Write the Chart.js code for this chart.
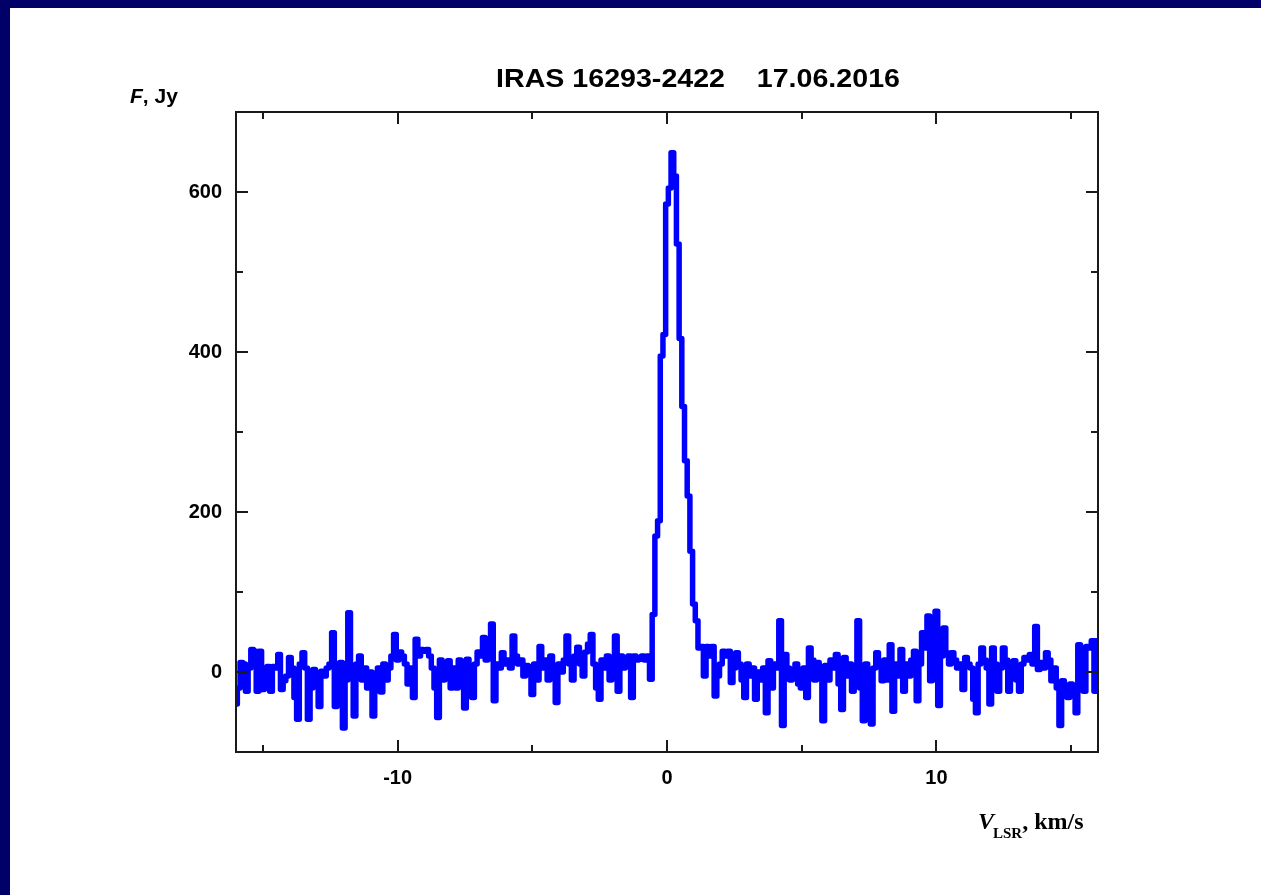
<!DOCTYPE html>
<html>
<head>
<meta charset="utf-8">
<script src="https://cdn.jsdelivr.net/npm/chart.js@4.4.1/dist/chart.umd.min.js"></script>
<style>
  html, body { margin: 0; padding: 0; background: #fff; }
  #wrap { width: 1261px; height: 895px; position: relative; }
</style>
</head>
<body>
<div id="wrap"><canvas id="spec" width="1261" height="895"></canvas></div>
<script>
// Channel grid of the spectrum (km/s)
const VEL_START = -16;
const VEL_STEP = 0.1;

// Flux density, Jy
const fluxBlueNoise = [
  -40, -20, 12, 10, -24, 5, 28, 26, -24, 26,
  -22, -5, 7, -24, 7, 5, 22, -22, -11, -5,
  18, 5, -32, -59, 10, 24, 5, -59, -20, 3,
  -10, -43, 1, -5, 5, 10, 49, -43, 0, 12,
  -70, -10, 74, 5, -55, 10, 20, -10, 5, -20,
  0, -55, -20, 5, -25, 10, -10, 5, 20, 47,
  15, 25, 20, 10, -15, 5, -32, 41, 20, 28,
  26, 28, 20, 5, -20, -57, 15, -10, 10, 14,
  -20, 5, -20, 15, 10, -45, 16, 5, -32, 10,
  25, 20, 43, 15, 20, 60, -36, 10, 5, 24,
  10, 15, 5, 45, 20, 10, 15, -5, 8, 0,
  -28, 10, -10, 32, 5, 15, -10, 20, 5, -38,
  10, 0, 15, 45, 10, -10, 20, 31, 10, -5,
  25, 35, 47, 10, -20, -34, 15, 5, 20, -10,
  15, 45, -24, 20, 5, 15, 20, -32, 20, 15,
  16, 20, 15, 20, -9,
];
const fluxLine = [72, 170, 189, 395, 422, 585, 605, 649, 620, 535, 417, 332, 264, 220, 151, 85, 64];
const fluxRedNoise = [
  30, 32, -5, 32, 20, 32, -30, -5, 10, 26,
  20, 26, -13, 5, 24, 10, -10, -32, 10, -5,
  5, -34, 0, -10, 5, -51, 14, -20, 10, 5,
  64, -67, 22, 5, -10, 3, 10, -15, -20, 5,
  -32, 30, 15, -10, 12, 5, -61, 8, -10, 15,
  5, 22, -15, -47, 18, -5, 10, -24, 0, 64,
  -20, -61, 10, -20, -65, 5, 24, 10, -11, 15,
  -10, 34, -49, 10, -5, 28, -24, 10, -5, 15,
  26, -36, 10, 49, 30, 70, -11, 20, 76, -42,
  20, 55, 24, 10, 24, 15, 5, 10, -22, 18,
  10, 5, -34, -51, 10, 30, 15, 5, -40, 30,
  10, -24, 5, 30, 15, -24, 5, 14, -10, -24,
  10, 18, 15, 22, 10, 57, 3, 12, 5, 24,
  15, -11, 5, -20, -67, -11, -20, -32, -15, -25,
  -51, 34, 5, -24, 32, 30, 39, -24, 39,
];

const xMajor = [-10, 0, 10];
const xMinor = [-15, -5, 5, 15];
const yMajor = [0, 200, 400, 600];
const yMinor = [100, 300, 500];

const flux = fluxBlueNoise.concat(fluxLine, fluxRedNoise);
const points = flux.map((f, i) => ({ x: +(VEL_START + VEL_STEP * i).toFixed(2), y: f }));

const NAVY = "#000068";
const INK = "#1a1a1a";
const SANS = "'Liberation Sans', Arial, sans-serif";
const SERIF = "'Liberation Serif', 'Times New Roman', serif";

// Slide frame, inward ticks on all four sides, and the texts placed like the original slide.
const decor = {
  id: "decor",
  beforeDraw(chart) {
    const ctx = chart.ctx;
    ctx.save();
    ctx.fillStyle = NAVY;
    ctx.fillRect(0, 0, chart.width, 8);
    ctx.fillRect(0, 0, 10, chart.height);
    ctx.restore();
  },
  afterDraw(chart) {
    const { ctx, chartArea: a, scales } = chart;
    ctx.save();
    ctx.strokeStyle = INK;
    ctx.lineWidth = 2;
    ctx.strokeRect(a.left, a.top, a.right - a.left, a.bottom - a.top);

    ctx.beginPath();
    const tickX = (vals, len) => vals.forEach((v) => {
      const px = Math.round(scales.x.getPixelForValue(v));
      ctx.moveTo(px, a.bottom); ctx.lineTo(px, a.bottom - len);
      ctx.moveTo(px, a.top); ctx.lineTo(px, a.top + len);
    });
    const tickY = (vals, len) => vals.forEach((v) => {
      const py = Math.round(scales.y.getPixelForValue(v));
      ctx.moveTo(a.left, py); ctx.lineTo(a.left + len, py);
      ctx.moveTo(a.right, py); ctx.lineTo(a.right - len, py);
    });
    tickX(xMajor, 12); tickX(xMinor, 7);
    tickY(yMajor, 12); tickY(yMinor, 7);
    ctx.stroke();

    ctx.fillStyle = "#000";
    ctx.textBaseline = "alphabetic";

    // title
    ctx.save();
    ctx.translate(698, 87);
    ctx.scale(1.1, 1);
    ctx.font = "bold 26px " + SANS;
    ctx.textAlign = "center";
    ctx.fillText("IRAS 16293-2422    17.06.2016", 0, 0);
    ctx.restore();

    // y title: F, Jy
    ctx.textAlign = "left";
    ctx.font = "italic bold 21px " + SANS;
    ctx.fillText("F", 130, 103);
    let w = ctx.measureText("F").width;
    ctx.font = "bold 21px " + SANS;
    ctx.fillText(", Jy", 130 + w, 103);

    // x title: V_LSR, km/s
    let x = 978;
    ctx.font = "italic bold 24px " + SERIF;
    ctx.fillText("V", x, 829);
    x += ctx.measureText("V").width - 1;
    ctx.font = "bold 15px " + SERIF;
    ctx.fillText("LSR", x, 838);
    x += ctx.measureText("LSR").width;
    ctx.font = "bold 24px " + SERIF;
    ctx.fillText(", km/s", x, 829);
    ctx.restore();
  },
};

new Chart(document.getElementById("spec"), {
  type: "line",
  data: {
    datasets: [{
      data: points,
      stepped: "middle",
      borderColor: "#0000ff",
      borderWidth: 5.5,
      borderJoinStyle: "round",
      borderCapStyle: "round",
      pointRadius: 0,
      fill: false,
    }],
  },
  options: {
    responsive: false,
    animation: false,
    parsing: false,
    layout: { padding: { left: 176, right: 163, top: 112, bottom: 93 } },
    plugins: { legend: { display: false }, tooltip: { enabled: false }, title: { display: false } },
    scales: {
      x: {
        type: "linear",
        min: -16,
        max: 16,
        afterBuildTicks: (s) => { s.ticks = xMajor.map((v) => ({ value: v })); },
        afterFit: (s) => { s.height = 50; },
        grid: { display: false, drawTicks: false },
        border: { display: false },
        ticks: { color: "#000", padding: 14, font: { family: SANS, size: 20, weight: "bold" }, maxRotation: 0 },
      },
      y: {
        type: "linear",
        min: -100,
        max: 700,
        afterBuildTicks: (s) => { s.ticks = yMajor.map((v) => ({ value: v })); },
        afterFit: (s) => { s.width = 60; },
        grid: { display: false, drawTicks: false },
        border: { display: false },
        ticks: { color: "#000", padding: 14, font: { family: SANS, size: 20, weight: "bold" } },
      },
    },
  },
  plugins: [decor],
});
</script>
</body>
</html>
